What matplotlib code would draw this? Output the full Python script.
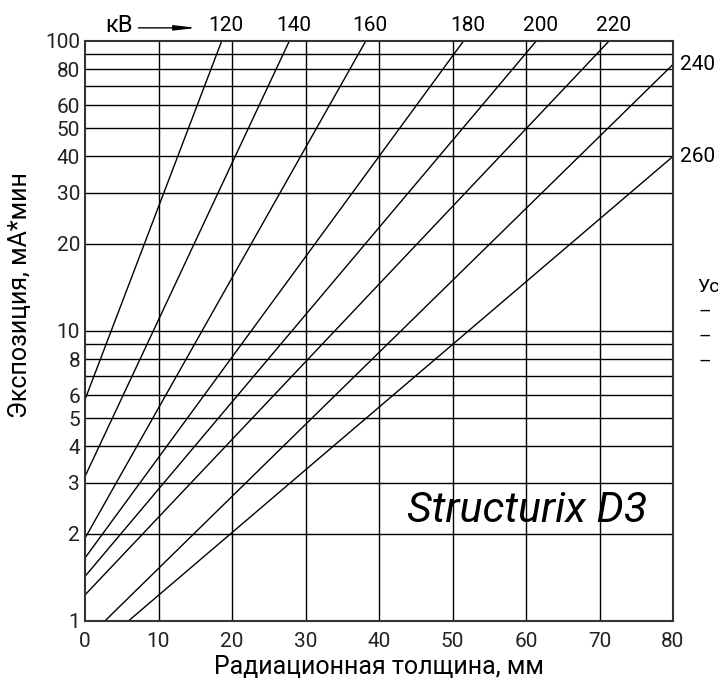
import numpy as np
import matplotlib.pyplot as plt

plt.rcParams['font.family'] = ['Roboto', 'DejaVu Sans']

kv = ['120', '140', '160', '180', '200', '220', '240', '260']
x_start = [0, 0, 0, 0, 0, 0, 2.7, 5.9]
y_start = [5.8, 3.15, 1.93, 1.65, 1.425, 1.23, 1.0, 1.0]
x_end = [18.6, 27.8, 38.2, 51.5, 61.4, 71.3, 80, 80]
y_end = [100, 100, 100, 100, 100, 100, 83, 40]

x_ticks = [0, 10, 20, 30, 40, 50, 60, 70, 80]
y_ticks = [1, 2, 3, 4, 5, 6, 8, 10, 20, 30, 40, 50, 60, 80, 100]
y_grid_extra = [7, 9, 70, 90]

fig = plt.figure(figsize=(7.18, 6.84), dpi=100)
ax = fig.add_axes([85/718, 1-621/684, 588/718, 580/684])

ax.set_yscale('log')
ax.set_xlim(0, 80)
ax.set_ylim(1, 100)

# grid
for xv in x_ticks[1:-1]:
    ax.axvline(xv, color='black', lw=1.0)
for yv in y_ticks[1:-1] + y_grid_extra:
    ax.axhline(yv, color='black', lw=1.0)

for i in range(len(kv)):
    ax.plot([x_start[i], x_end[i]], [y_start[i], y_end[i]], color='black', lw=1.0)
    if y_end[i] >= 100:
        ax.annotate(kv[i], (x_end[i], 100), xytext=(3, 4), textcoords='offset points',
                    ha='center', va='bottom', fontsize=15, annotation_clip=False)
    else:
        ax.annotate(kv[i], (80, y_end[i]), xytext=(5, 0), textcoords='offset points',
                    ha='left', va='center', fontsize=15, annotation_clip=False)

ax.text(4.6, 103, 'кВ', ha='center', va='bottom', fontsize=17)
ax.annotate('', xy=(15.6, 111), xytext=(6.9, 111), annotation_clip=False,
            arrowprops=dict(arrowstyle='-|>,head_length=1.3,head_width=0.15',
                            color='black', lw=1.0))

ax.set_xticks(x_ticks)
ax.set_xticklabels([str(v) for v in x_ticks], fontsize=15)
ax.set_yticks(y_ticks)
ax.set_yticklabels([str(v) for v in y_ticks], fontsize=15)
ax.minorticks_off()
ax.tick_params(axis='x', length=0, pad=8, colors='#222222')
ax.tick_params(axis='y', length=0, pad=3.5, colors='#222222')

for s in ax.spines.values():
    s.set_linewidth(1.5)
    s.set_color('#333333')

ax.text(76.5, 2.4, 'Structurix D3', ha='right', va='center', fontsize=31,
        style='italic')

ax.set_xlabel('Радиационная толщина, мм', fontsize=18, labelpad=3)
fig.text(20/718, 1-295/684, 'Экспозиция, мА*мин', rotation=90, ha='center',
         va='center', fontsize=18)

fig.text(697/718, 1-287/684, 'Ус', fontsize=14, va='center')
for yp in [312, 337, 362]:
    fig.text(698/718, 1-yp/684, '–', fontsize=14, va='center')

fig.savefig('out.png', dpi=100)
